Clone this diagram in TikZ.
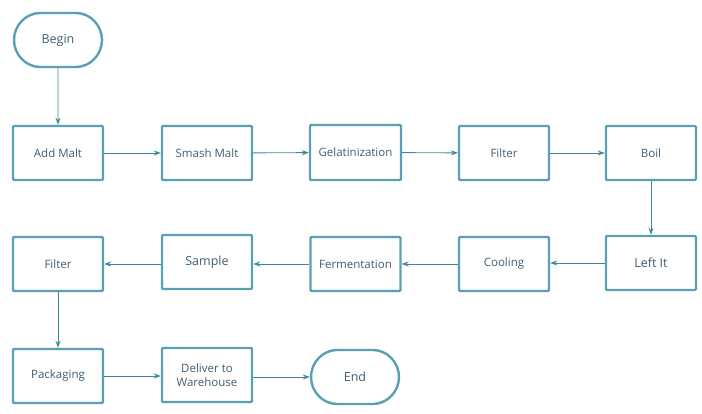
\documentclass[tikz,border=0pt]{standalone}
\usepackage{fontspec}
\setmainfont{Open Sans}
\usetikzlibrary{arrows.meta,shapes.misc}
\definecolor{boxc}{HTML}{5AA0B4}
\definecolor{linec}{HTML}{3F8898}
\definecolor{txtc}{HTML}{3F5E74}
\begin{document}
\begin{tikzpicture}[x=1pt,y=-1pt,
  proc/.style={draw=boxc,line width=2.4pt,minimum width=90pt,minimum height=54pt,inner sep=1pt,text=txtc,font=\fontsize{11.5}{14}\selectfont,align=center,rounded corners=1pt,fill=white},
  term/.style={proc,rounded rectangle},
  big/.style={font=\fontsize{12.5}{15}\selectfont},
  conn/.style={draw=linec,line width=0.9pt,-{Stealth[length=7pt,width=5pt]}}]
\useasboundingbox (0,0) rectangle (702,414);
\node[term,big] (begin) at (58,40) {Begin};
\node[proc] (add) at (58,153) {Add Malt};
\node[proc] (smash) at (207,153) {Smash Malt};
\node[proc,minimum width=91pt,minimum height=55pt] (gel) at (355.5,152.5) {Gelatinization};
\node[proc] (filt) at (504,153) {Filter};
\node[proc] (boil) at (651,153) {Boil};
\node[proc,big] (left) at (651,263) {Left It};
\node[proc] (cool) at (504,264) {Cooling};
\node[proc] (ferm) at (355.5,264) {Fermentation};
\node[proc,big] (samp) at (207,262) {Sample};
\node[proc] (filt2) at (58,264) {Filter};
\node[proc] (pack) at (58,376) {Packaging};
\node[proc] (del) at (207,375) {Deliver to\\Warehouse};
\node[term,big] (end) at (355,377) {End};
\draw[conn] (begin) -- (add);
\draw[conn] (add) -- (smash);
\draw[conn] (smash) -- (gel);
\draw[conn] (gel) -- (filt);
\draw[conn] (filt) -- (boil);
\draw[conn] (boil) -- (left);
\draw[conn] (left.west) -- (cool.east |- left.west);
\draw[conn] (cool) -- (ferm);
\draw[conn] (ferm.west) -- (samp.east |- ferm.west);
\draw[conn] (samp.west |- filt2.east) -- (filt2.east);
\draw[conn] (filt2) -- (pack);
\draw[conn] (pack) -- (del.west |- pack.east);
\draw[conn] (del.east |- end.west) -- (end.west);
\end{tikzpicture}
\end{document}
